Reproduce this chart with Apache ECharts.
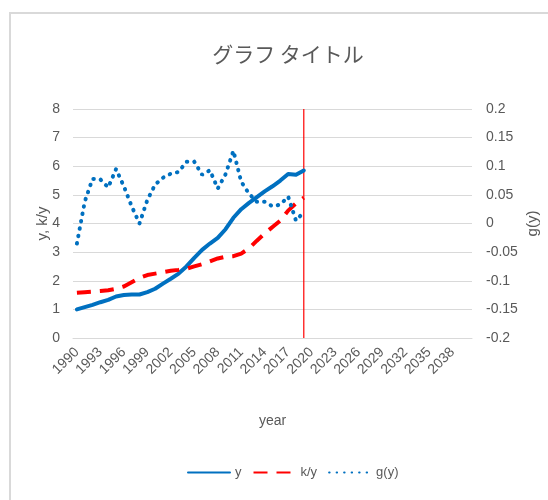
<!DOCTYPE html>
<html>
<head>
<meta charset="utf-8">
<script src="https://cdn.jsdelivr.net/npm/echarts@6/dist/echarts.min.js"></script>
<style>html,body{margin:0;padding:0;background:#fff}#c{width:548px;height:500px}</style>
</head>
<body>
<div id="c"></div>
<script>
var years = [];
for (var yr = 1990; yr <= 2040; yr++) years.push(String(yr));
var ySeries = [1.0, 1.08, 1.16, 1.25, 1.33, 1.45, 1.5, 1.52, 1.52, 1.6, 1.72, 1.9, 2.07, 2.25, 2.5, 2.8, 3.08, 3.3, 3.5, 3.8, 4.2, 4.5, 4.72, 4.92, 5.12, 5.3, 5.5, 5.73, 5.7, 5.85];
var kySeries = [1.58, 1.6, 1.62, 1.64, 1.67, 1.72, 1.8, 1.95, 2.1, 2.2, 2.25, 2.3, 2.35, 2.38, 2.42, 2.5, 2.58, 2.68, 2.78, 2.84, 2.86, 2.95, 3.13, 3.4, 3.65, 3.88, 4.1, 4.45, 4.7, 4.9];
var gSeries = [-0.035, 0.038, 0.078, 0.077, 0.063, 0.095, 0.065, 0.03, 0.0, 0.041, 0.068, 0.08, 0.087, 0.09, 0.108, 0.108, 0.085, 0.093, 0.061, 0.086, 0.127, 0.073, 0.052, 0.038, 0.038, 0.03, 0.033, 0.047, 0.005, 0.02];
var markYear = '2019';
var markRange = [0, 8];
var titleText = 'グラフ タイトル';

var gray = '#595959';
var font = '"Liberation Sans Narrow","Liberation Sans",sans-serif';
var chart = echarts.init(document.getElementById('c'));
chart.setOption({
  animation: false,
  backgroundColor: '#fff',
  graphic: [{
    type: 'rect', shape: {x: 10, y: 13, width: 560, height: 520},
    style: {fill: 'none', stroke: '#d9d9d9', lineWidth: 2}, z: -1
  }],
  title: {
    text: titleText, left: 283, top: 39, textAlign: 'center',
    textStyle: {fontFamily: '"Noto Sans CJK JP"', fontSize: 21, fontWeight: 'normal', color: gray}
  },
  grid: {left: 73, right: 71, top: 109, bottom: 162, containLabel: false},
  legend: {
    bottom: 16, left: 182, itemWidth: 42, itemHeight: 14, itemGap: 11,
    itemStyle: {opacity: 0},
    textStyle: {fontFamily: font, fontSize: 13, color: gray},
    data: ['y', 'k/y', 'g(y)']
  },
  xAxis: {
    type: 'category', data: years, boundaryGap: true,
    name: 'year', nameLocation: 'middle', nameGap: 76, nameMoveOverlap: false,
    nameTextStyle: {fontFamily: font, fontSize: 14, color: gray},
    axisLine: {lineStyle: {color: '#d9d9d9', width: 1}},
    axisTick: {show: false},
    axisLabel: {interval: 2, rotate: 45, margin: 12, fontFamily: font, fontSize: 14, color: gray}
  },
  yAxis: [{
    type: 'value', min: 0, max: 8, interval: 1,
    name: 'y, k/y', nameLocation: 'middle', nameGap: 23, nameMoveOverlap: false,
    nameTextStyle: {fontFamily: font, fontSize: 15, color: gray},
    axisLine: {show: false}, axisTick: {show: false},
    axisLabel: {margin: 13, fontFamily: font, fontSize: 14, color: gray},
    splitLine: {lineStyle: {color: '#d9d9d9', width: 1}}
  }, {
    type: 'value', min: -0.2, max: 0.2, interval: 0.05, position: 'right',
    name: 'g(y)', nameLocation: 'middle', nameGap: 53, nameMoveOverlap: false,
    nameTextStyle: {fontFamily: font, fontSize: 15, color: gray},
    axisLine: {show: false}, axisTick: {show: false},
    axisLabel: {margin: 14, fontFamily: font, fontSize: 14, color: gray,
      formatter: function (v) { return String(+v.toFixed(2)); }},
    splitLine: {show: false}
  }],
  series: [{
    name: 'marker', type: 'line', yAxisIndex: 0, z: 1,
    data: [[markYear, markRange[0]], [markYear, markRange[1]]],
    symbol: 'none', color: '#ff0000', silent: true,
    lineStyle: {width: 1.2, color: '#ff0000', type: 'solid'}
  }, {
    name: 'y', type: 'line', data: ySeries, yAxisIndex: 0, z: 3,
    symbol: 'none', color: '#0070c0',
    lineStyle: {width: 4, color: '#0070c0', cap: 'round', join: 'round'}
  }, {
    name: 'k/y', type: 'line', data: kySeries, yAxisIndex: 0, z: 3,
    symbol: 'none', color: '#ff0000',
    lineStyle: {width: 4, color: '#ff0000', type: [14, 9]}
  }, {
    name: 'g(y)', type: 'line', data: gSeries, yAxisIndex: 1, z: 3,
    symbol: 'none', color: '#0070c0',
    lineStyle: {width: 4, color: '#0070c0', type: [0.5, 7], cap: 'round'}
  }]
});
</script>
</body>
</html>
